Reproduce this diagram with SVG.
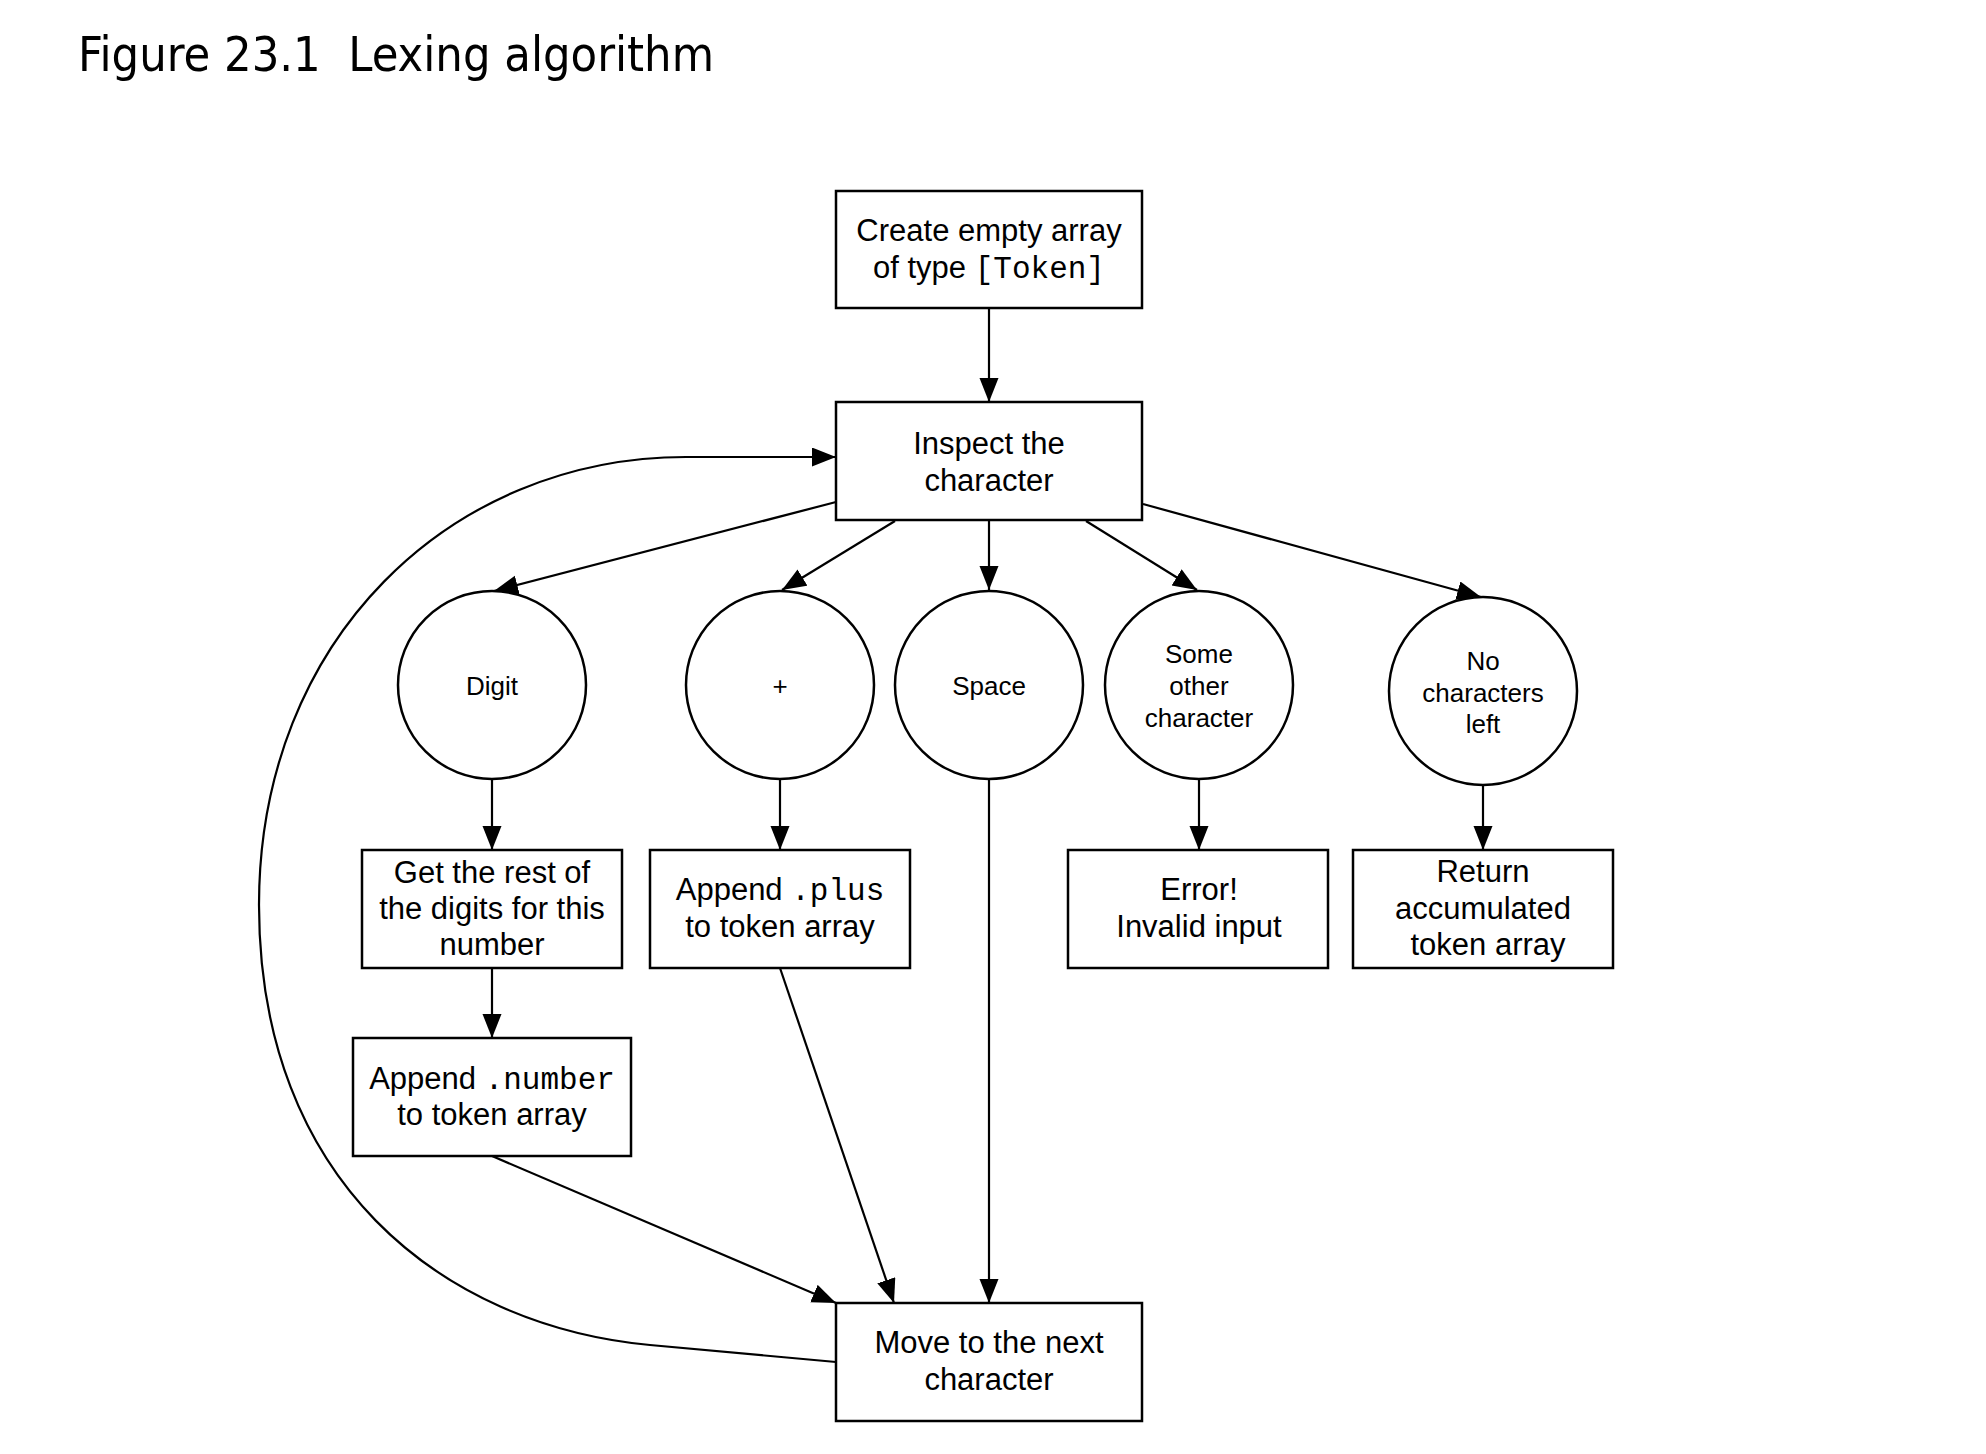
<svg xmlns="http://www.w3.org/2000/svg" width="1986" height="1454" viewBox="0 0 1986 1454">
<style>
.box{fill:#fff;stroke:#000;stroke-width:2.5}
.node{fill:#fff;stroke:#000;stroke-width:2.5}
.t{font-family:"Liberation Sans",Arial,Helvetica,sans-serif;font-size:31px;fill:#000;text-anchor:middle}
.c{font-family:"Liberation Sans",Arial,Helvetica,sans-serif;font-size:26px;fill:#000;text-anchor:middle}
.m{font-family:"Liberation Mono","DejaVu Sans Mono",monospace;font-size:31px}
.edge{fill:none;stroke:#000;stroke-width:2.2}
.title{font-family:"DejaVu Sans Condensed","DejaVu Sans",sans-serif;font-size:48px;fill:#000;white-space:pre}
</style>
<defs>
<marker id="arr" markerUnits="userSpaceOnUse" markerWidth="26" markerHeight="20" refX="24" refY="9.5" orient="auto">
<path d="M0,0 L24,9.5 L0,19 z" fill="#000"/>
</marker>
</defs>
<rect width="1986" height="1454" fill="#fff"/>
<text class="title" x="78" y="71" xml:space="preserve" textLength="636" lengthAdjust="spacingAndGlyphs">Figure 23.1  Lexing algorithm</text>

<g id="connectors">
<line class="edge" x1="989" y1="308" x2="989" y2="402" marker-end="url(#arr)"/>
<line class="edge" x1="836" y1="502" x2="494" y2="591" marker-end="url(#arr)"/>
<line class="edge" x1="895" y1="521" x2="782" y2="590" marker-end="url(#arr)"/>
<line class="edge" x1="989" y1="521" x2="989" y2="590" marker-end="url(#arr)"/>
<line class="edge" x1="1086" y1="521" x2="1197" y2="590" marker-end="url(#arr)"/>
<line class="edge" x1="1143" y1="504" x2="1481" y2="597" marker-end="url(#arr)"/>
<line class="edge" x1="492" y1="779" x2="492" y2="850" marker-end="url(#arr)"/>
<line class="edge" x1="780" y1="779" x2="780" y2="850" marker-end="url(#arr)"/>
<line class="edge" x1="1199" y1="779" x2="1199" y2="850" marker-end="url(#arr)"/>
<line class="edge" x1="1483" y1="785" x2="1483" y2="850" marker-end="url(#arr)"/>
<line class="edge" x1="492" y1="968" x2="492" y2="1038" marker-end="url(#arr)"/>
<line class="edge" x1="492" y1="1156" x2="836" y2="1303" marker-end="url(#arr)"/>
<line class="edge" x1="780" y1="968" x2="894" y2="1303" marker-end="url(#arr)"/>
<line class="edge" x1="989" y1="779" x2="989" y2="1303" marker-end="url(#arr)"/>
<path class="edge" d="M836,1362 L650,1345 C440,1325 259,1180 259,905 C259,640 450,457 686,457 L836,457" marker-end="url(#arr)"/>
</g>

<g id="create">
<rect class="box" x="836" y="191" width="306" height="117"/>
<text class="t" x="989" y="241">Create empty array</text>
<text class="t" x="989" y="278">of type <tspan class="m">[Token]</tspan></text>
</g>
<g id="inspect">
<rect class="box" x="836" y="402" width="306" height="118"/>
<text class="t" x="989" y="454">Inspect the</text>
<text class="t" x="989" y="491">character</text>
</g>
<g id="digit">
<circle class="node" cx="492" cy="685" r="94"/>
<text class="c" x="492" y="695">Digit</text>
</g>
<g id="plus">
<circle class="node" cx="780" cy="685" r="94"/>
<text class="c" x="780" y="695">+</text>
</g>
<g id="space">
<circle class="node" cx="989" cy="685" r="94"/>
<text class="c" x="989" y="695">Space</text>
</g>
<g id="other">
<circle class="node" cx="1199" cy="685" r="94"/>
<text class="c" x="1199" y="663">Some</text>
<text class="c" x="1199" y="695">other</text>
<text class="c" x="1199" y="727">character</text>
</g>
<g id="nochars">
<circle class="node" cx="1483" cy="691" r="94"/>
<text class="c" x="1483" y="670">No</text>
<text class="c" x="1483" y="702">characters</text>
<text class="c" x="1483" y="733">left</text>
</g>
<g id="getrest">
<rect class="box" x="362" y="850" width="260" height="118"/>
<text class="t" x="492" y="883">Get the rest of</text>
<text class="t" x="492" y="919">the digits for this</text>
<text class="t" x="492" y="955">number</text>
</g>
<g id="appendplus">
<rect class="box" x="650" y="850" width="260" height="118"/>
<text class="t" x="780" y="900">Append <tspan class="m">.plus</tspan></text>
<text class="t" x="780" y="937">to token array</text>
</g>
<g id="error">
<rect class="box" x="1068" y="850" width="260" height="118"/>
<text class="t" x="1199" y="900">Error!</text>
<text class="t" x="1199" y="937">Invalid input</text>
</g>
<g id="return">
<rect class="box" x="1353" y="850" width="260" height="118"/>
<text class="t" x="1483" y="882">Return</text>
<text class="t" x="1483" y="919">accumulated</text>
<text class="t" x="1488" y="955">token array</text>
</g>
<g id="appendnumber">
<rect class="box" x="353" y="1038" width="278" height="118"/>
<text class="t" x="492" y="1089">Append <tspan class="m">.number</tspan></text>
<text class="t" x="492" y="1125">to token array</text>
</g>
<g id="move">
<rect class="box" x="836" y="1303" width="306" height="118"/>
<text class="t" x="989" y="1353">Move to the next</text>
<text class="t" x="989" y="1390">character</text>
</g>
</svg>
